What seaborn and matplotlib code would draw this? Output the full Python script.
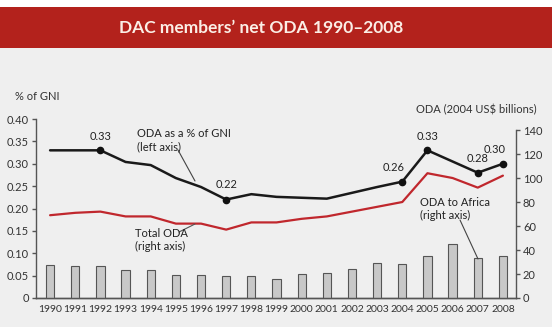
import numpy as np
import pandas as pd
import matplotlib.pyplot as plt
import seaborn as sns
from matplotlib.patches import Rectangle

years = list(range(1990, 2009))
oda_gni = [0.33, 0.33, 0.33, 0.304, 0.297, 0.268, 0.248, 0.22, 0.232, 0.226, 0.224, 0.222,
           0.235, 0.248, 0.26, 0.33, 0.305, 0.28, 0.30]
total_oda = [69, 71, 72, 68, 68, 62, 62, 57, 63, 63, 66, 68, 72, 76, 80, 104, 100, 92, 102]
africa_oda = [27.5, 27, 27, 23.5, 23, 19, 19, 18.5, 18, 16, 20, 21, 24, 29, 28, 35, 45, 33, 35]
labelled_years = [1992, 1997, 2004, 2005, 2007, 2008]
labelled_text = ['0.33', '0.22', '0.26', '0.33', '0.28', '0.30']

df = pd.DataFrame({'year': years, 'gni': oda_gni, 'total': total_oda, 'africa': africa_oda})

sns.set_style('white')
plt.rcParams['font.family'] = ['Lato', 'DejaVu Sans']

W, H = 552, 327
fig = plt.figure(figsize=(W / 100, H / 100), dpi=100, facecolor='#efefef')

# title band
fig.patches.append(Rectangle((0, 1 - 7 / H), 1, 7 / H, transform=fig.transFigure,
                             facecolor='white', edgecolor='none'))
fig.patches.append(Rectangle((0, 1 - 48 / H), 1, 41 / H, transform=fig.transFigure,
                             facecolor='#b3221c', edgecolor='none'))
fig.text(0.473, 1 - 28 / H, 'DAC members\u2019 net ODA 1990\u20132008', ha='center', va='center',
         color='#fbeee6', fontsize=12.5, fontweight='bold')

ax = fig.add_axes([36 / W, 1 - 298 / H, (516 - 36) / W, (298 - 119) / H])
ax.set_facecolor('none')
ax2 = ax.twinx()

# bars and red line on right axis
sns.barplot(data=df, x='year', y='africa', native_scale=True, width=0.33, color='#c8c8c8',
            edgecolor='#555555', linewidth=0.8, ax=ax2, saturation=1)
sns.lineplot(data=df, x='year', y='total', color='#c0272d', linewidth=1.6, ax=ax2)

# black line on left axis
sns.lineplot(data=df, x='year', y='gni', color='#1a1a1a', linewidth=1.8, ax=ax)
lab = df[df['year'].isin(labelled_years)]
ax.plot(lab['year'], lab['gni'], 'o', color='#111111', markersize=4.5, zorder=5)
offsets = {1992: (0, 6), 1997: (0, 7), 2004: (-6, 6), 2005: (0, 6), 2007: (0, 6), 2008: (-6, 6)}
for yr, txt in zip(labelled_years, labelled_text):
    val = df.loc[df['year'] == yr, 'gni'].values[0]
    ax.annotate(txt, (yr, val), xytext=offsets[yr], textcoords='offset points',
                ha='center', va='bottom', fontsize=8, color='#222222')

ax.set_xlim(1989.44, 2008.52)
ax.set_ylim(0, 0.40)
ax2.set_ylim(0, 149.2)
ax.set_xticks(years)
ax.set_xticklabels([str(y) for y in years], fontsize=7.5, color='#333333')
ax.set_yticks(np.arange(0, 0.41, 0.05))
ax.set_yticklabels(['0'] + ['%.2f' % v for v in np.arange(0.05, 0.41, 0.05)], fontsize=8,
                   color='#333333')
ax2.set_yticks(range(0, 141, 20))
ax2.set_yticklabels([str(v) for v in range(0, 141, 20)], fontsize=8, color='#333333')
ax.set_xlabel('')
ax.set_ylabel('')
ax2.set_xlabel('')
ax2.set_ylabel('')

for a in (ax, ax2):
    a.spines['top'].set_visible(False)
    for s in a.spines.values():
        s.set_color('#555555')
        s.set_linewidth(1)
ax.spines['right'].set_visible(False)
ax2.spines['left'].set_visible(False)
ax.spines['left'].set_bounds(0, 0.40)
ax2.spines['right'].set_bounds(0, 140)
ax.tick_params(axis='y', length=3, width=1, color='#555555', pad=2, left=True)
ax.tick_params(axis='x', length=0, pad=5)
ax2.tick_params(axis='y', length=3, width=1, color='#555555', pad=2, right=True)

fig.text(15 / W, 1 - 97 / H, '% of GNI', fontsize=8, color='#333333', va='center')
fig.text(537 / W, 1 - 110 / H, 'ODA (2004 US$ billions)', fontsize=8, color='#333333',
         va='center', ha='right')

# callouts
fig.text(137 / W, 1 - 140 / H, 'ODA as a % of GNI\n(left axis)', fontsize=8, color='#222222',
         va='center', linespacing=1.3)
fig.add_artist(plt.Line2D([178 / W, 195 / W], [1 - 150 / H, 1 - 181 / H], color='#444444', lw=0.8))
fig.text(135 / W, 1 - 240 / H, 'Total ODA\n(right axis)', fontsize=8, color='#222222',
         va='center', linespacing=1.3)
fig.add_artist(plt.Line2D([179 / W, 195 / W], [1 - 232 / H, 1 - 224 / H], color='#555555', lw=0.8))
fig.text(420 / W, 1 - 209 / H, 'ODA to Africa\n(right axis)', fontsize=8, color='#222222',
         va='center', linespacing=1.3)
fig.add_artist(plt.Line2D([460 / W, 478 / W], [1 - 220 / H, 1 - 259 / H], color='#444444', lw=0.8))

plt.savefig('out.png', dpi=100, facecolor=fig.get_facecolor())
